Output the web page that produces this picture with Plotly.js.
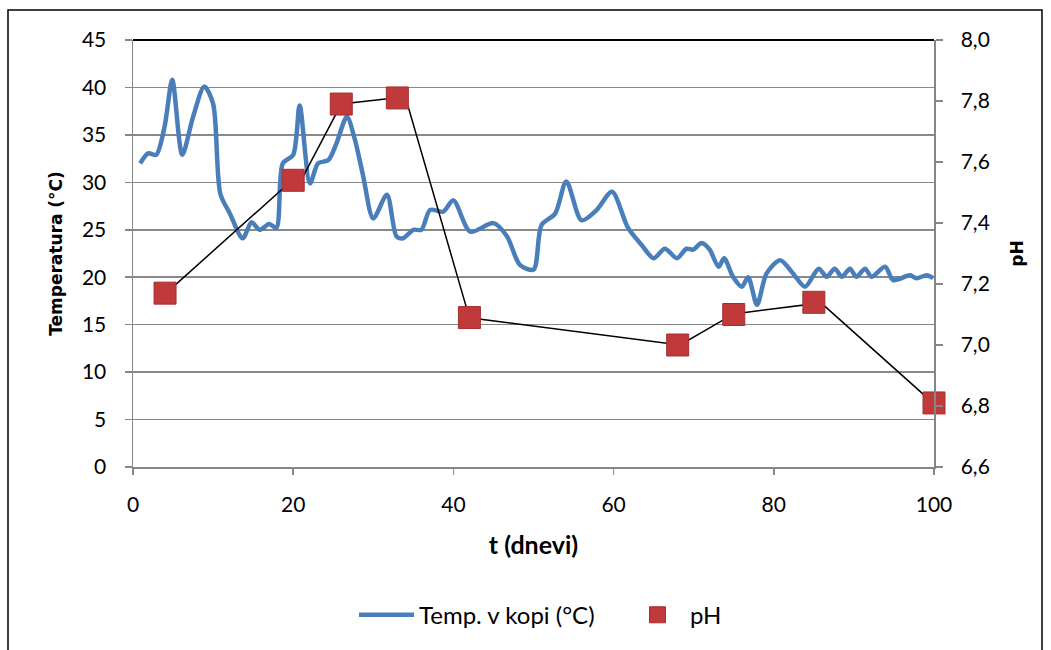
<!DOCTYPE html>
<html>
<head>
<meta charset="utf-8">
<script src="https://cdn.plot.ly/plotly-3.0.1.min.js"></script>
<style>
html,body{margin:0;padding:0;background:#fff;}
#chart{width:1051px;height:650px;}
</style>
</head>
<body>
<div id="chart"></div>
<script>
// Temperature series (days, °C)
const tempDays = [0.9,1.9,2.9,3.95,4.9,6.15,7.5,8.9,10,10.9,12.1,13.7,14.8,15.8,17,17.9,18.7,20,20.8,22.1,23.1,24.4,25.4,26.7,27.7,28.75,30,31.7,32.9,33.7,35,36,37.1,38.7,40,42.1,45,46.7,48.3,50,51,52.7,54.1,56,57.9,59.8,61.8,63.5,65,66.4,67.9,69.1,69.9,71,72,73.1,73.8,74.9,76,76.8,77.9,79.1,80.8,82.4,83.9,85.6,86.6,87.6,88.5,89.5,90.3,91.4,92.2,93.9,94.9,97,97.8,99.1,99.9];
const tempValues = [32.0,33.05,32.9,35.9,40.8,32.9,36.9,40.1,38.3,28.8,26.7,24.1,25.8,25.0,25.6,25.2,32.0,32.9,38.1,29.9,32.0,32.35,34.1,36.9,34.5,30.6,26.2,28.7,24.3,24.1,25.0,25.0,27.1,26.9,28.1,24.8,25.7,24.3,21.3,20.8,25.5,26.7,30.1,26.0,27.1,29.0,25.2,23.4,22.0,23.0,22.0,23.0,22.9,23.6,22.9,21.1,22.0,20.05,19.0,20.0,17.1,20.4,21.8,20.4,19.0,20.9,20.05,20.9,20.05,20.9,20.05,20.9,20.05,21.1,19.7,20.2,19.9,20.2,19.9];

// pH markers
const phDays = [4,20,26,33,42,68,75,85,100];
const phValues = [7.17,7.54,7.79,7.81,7.09,7.0,7.10,7.14,6.81];

// black connecting line (drawn separately in the original)
const phLineDays = [4.0,19.9,21.0,26.0,34.0,42.0,68.3,75.0,85.9,100];
const phLineValues = [7.167,7.541,7.541,7.79,7.814,7.089,7.0,7.102,7.138,6.807];

const xTicks = [0,20,40,60,80,100];

const calib = 'Lato, "Liberation Sans", sans-serif';

const traces = [
  {
    x: tempDays, y: tempValues, type: 'scatter', mode: 'lines',
    name: 'Temp. v kopi (°C)',
    line: {color: '#4A7EBB', width: 4.5, shape: 'spline', smoothing: 0.8},
    yaxis: 'y'
  },
  {
    x: phLineDays, y: phLineValues, type: 'scatter', mode: 'lines',
    showlegend: false, hoverinfo: 'skip', cliponaxis: false,
    line: {color: '#000000', width: 1.5},
    yaxis: 'y2'
  },
  {
    x: phDays, y: phValues, type: 'scatter', mode: 'markers',
    name: 'pH', cliponaxis: false,
    marker: {symbol: 'square', size: 22, color: '#C0393B', line: {color: '#A3302F', width: 1}},
    yaxis: 'y2'
  }
];

const layout = {
  width: 1051, height: 650,
  margin: {l: 133, r: 117, t: 40, b: 183, autoexpand: false},
  paper_bgcolor: '#ffffff', plot_bgcolor: '#ffffff',
  separators: ', ',
  font: {family: calib, size: 21, color: '#000'},
  showlegend: true,
  legend: {
    orientation: 'h', x: (354 - 133) / 801, xanchor: 'left', y: -0.347, yanchor: 'middle',
    font: {family: calib, size: 24, color: '#000'},
    itemwidth: 55, entrywidth: 201, entrywidthmode: 'pixels',
    traceorder: 'normal'
  },
  xaxis: {
    range: [0, 100], tickvals: xTicks, ticktext: xTicks.map(String),
    showgrid: false, zeroline: false,
    showline: true, linecolor: '#868686', linewidth: 1.5,
    ticks: 'outside', ticklen: 6, tickcolor: '#868686', tickwidth: 1.5,
    ticklabelstandoff: 12,
    tickfont: {family: calib, size: 21, color: '#000'},
    title: {text: '<b>t (dnevi)</b>', font: {family: calib, size: 25, color: '#000'}, standoff: 22}
  },
  yaxis: {
    range: [0, 45], dtick: 5, tick0: 0,
    showgrid: true, gridcolor: '#898989', gridwidth: 1.5, zeroline: false,
    showline: true, linecolor: '#868686', linewidth: 1.5,
    ticks: 'outside', ticklen: 7, tickcolor: '#868686', tickwidth: 1.5,
    ticklabelstandoff: 14,
    tickfont: {family: calib, size: 21, color: '#000'},
    title: {text: '<b>Temperatura (°C)</b>', font: {family: 'DejaVu Sans', size: 17, color: '#000'}, standoff: 15}
  },
  yaxis2: {
    range: [6.6, 8.0], dtick: 0.2, tick0: 6.6, tickformat: '.1f',
    overlaying: 'y', side: 'right',
    showgrid: false, zeroline: false,
    showline: true, linecolor: '#868686', linewidth: 1.5,
    ticks: 'outside', ticklen: 7, tickcolor: '#868686', tickwidth: 1.5,
    ticklabelstandoff: 14,
    tickfont: {family: calib, size: 21, color: '#000'},
    title: {text: '<b>pH</b>', font: {family: 'DejaVu Sans', size: 17, color: '#000'}, standoff: 22}
  },
  shapes: [
    {type: 'line', xref: 'paper', yref: 'paper', x0: 0, x1: 1, y0: 1, y1: 1,
     line: {color: '#000', width: 2}},
    {type: 'rect', xref: 'paper', yref: 'paper',
     x0: (8 - 133) / 801, x1: (1042 - 133) / 801,
     y0: (467 - 660) / 427, y1: (467 - 10) / 427,
     line: {color: '#000', width: 1.5}, fillcolor: 'rgba(0,0,0,0)'}
  ]
};

Plotly.newPlot('chart', traces, layout, {displayModeBar: false, staticPlot: true});
</script>
</body>
</html>
